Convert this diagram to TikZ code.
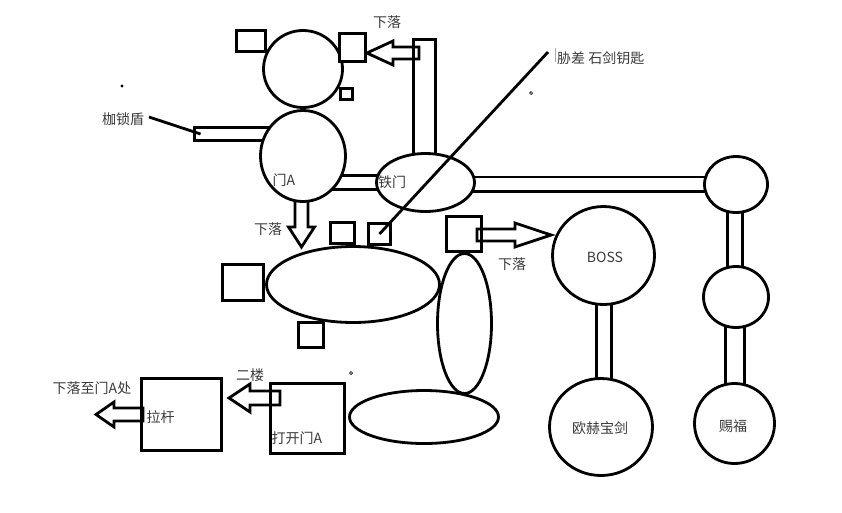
\documentclass[tikz,border=0pt]{standalone}
\usepackage{fontspec}
\newfontfamily\cjk{Noto Sans CJK SC}
\usetikzlibrary{shapes.geometric,calc,backgrounds}
\definecolor{txt}{HTML}{3A3A3A}
\definecolor{cursor}{HTML}{C8A878}
\tikzset{
  ln/.style={line width=2.8pt, line join=miter},
  room/.style={ln, draw, fill=white, ellipse, inner sep=0pt},
  sq/.style={ln, draw, fill=white, rectangle, inner sep=0pt},
  barline/.style={ln, draw},
  blockarrow/.style={ln, draw},
  lbl/.style={font=\cjk\fontsize{14pt}{16pt}\selectfont, text=txt, inner sep=0pt},
}
\begin{document}
\begin{tikzpicture}[x=1pt,y=-1pt]
\useasboundingbox (0,0) rectangle (842,512);
% rooms
\node[room, minimum width=79pt, minimum height=77pt] (T1) at (303,69) {};
\node[room, minimum width=85pt, minimum height=91pt] (DoorA) at (303,156) {};
\node[room, minimum width=98pt, minimum height=58pt] (TieMen) at (425.5,182.5) {};
\node[room, minimum width=173pt, minimum height=76pt] (BigE) at (353,284.5) {};
\node[room, fill=none, minimum width=54pt, minimum height=140pt] (VertE) at (464.5,323.5) {};
\node[room, fill=none, minimum width=149pt, minimum height=53pt] (BotE) at (424,417) {};
\node[room, minimum width=102pt, minimum height=98pt] (Boss) at (603.5,255.5) {};
\node[room, minimum width=103pt, minimum height=97pt] (Sword) at (601,427) {};
\node[room, minimum width=63pt, minimum height=56pt] (R1) at (736,184.5) {};
\node[room, minimum width=65pt, minimum height=61pt] (R2) at (736,297) {};
\node[room, minimum width=80pt, minimum height=80pt] (Bless) at (734.5,423.5) {};
% squares
\node[sq, minimum width=29pt, minimum height=21pt] (S1) at (251,41) {};
\node[sq, minimum width=26pt, minimum height=28pt] (S2) at (352.5,47.5) {};
\node[sq, minimum width=12pt, minimum height=11pt] (S3) at (346.5,94) {};
\node[sq, minimum width=24pt, minimum height=21pt] (S4) at (342.5,233) {};
\node[sq, minimum width=22pt, minimum height=21pt] (S5) at (379.5,234) {};
\node[sq, minimum width=41pt, minimum height=36pt] (S6) at (243,282.5) {};
\node[sq, minimum width=25pt, minimum height=25pt] (S7) at (311,335) {};
\node[sq, minimum width=35pt, minimum height=35pt] (S8) at (464,234) {};
\node[sq, minimum width=80pt, minimum height=72pt] (Lever) at (181.5,414.5) {};
\node[sq, minimum width=74pt, minimum height=70pt] (OpenA) at (307.5,418.5) {};
% free ends
\coordinate (shieldEnd) at (194.5,134);
\coordinate (ventTop) at (423.5,39.5);
% bars (connectors) behind the rooms
\begin{scope}[on background layer]
\draw[barline] ($(shieldEnd)+(0,-6.5)$) rectangle ($(DoorA.center|-shieldEnd)+(0,6.5)$);
\draw[barline] ($(ventTop)+(-10,0)$) rectangle ($(TieMen.center)+(10,0)$);
\draw[barline] ($(DoorA.center|-TieMen.center)+(0,-7)$) rectangle ($(TieMen.center)+(0,7)$);
\draw[barline] ($(TieMen.center|-R1.center)+(0,-7.5)$) rectangle ($(R1.center)+(0,7)$);
\draw[barline] ($(R1.center)+(-8.5,0)$) rectangle ($(R2.center)+(6.5,0)$);
\draw[barline] ($(R2.center)+(-10.5,0)$) rectangle ($(Bless.center)+(10,0)$);
\draw[barline] ($(Boss.center)+(-7,0)$) rectangle ($(Sword.center)+(10.5,0)$);
\end{scope}
% block arrows
\draw[blockarrow] (419,47) -- (393,47) -- (393,41) -- (S2.east|-393,53) -- (393,65) -- (393,59) -- (419,59) -- cycle;
\draw[blockarrow] (295,201) -- (295,227) -- (288.5,227) -- (301.5,247) -- (314.5,227) -- (308,227) -- (308,201);
\draw[blockarrow] (477,229) -- (515,229) -- (515,223) -- (Boss.west|-515,235) -- (515,247) -- (515,241) -- (477,241) -- cycle;
\draw[blockarrow] (280,391) -- (250,391) -- (250,384) -- (229,398) -- (250,412) -- (250,405) -- (280,405) -- cycle;
\draw[blockarrow] (143,408) -- (114,408) -- (114,402) -- (96,414.5) -- (114,427) -- (114,421) -- (143,421) -- cycle;
% pointer lines
\coordinate (keyEnd) at (548,52);
\coordinate (shieldTip) at (149,117);
\draw[ln] (keyEnd) -- (S5.center);
\draw[ln] (shieldTip) -- ($(shieldEnd)+(6,0)$);
% dots and cursor
\fill (122,86) circle (1.6pt);
\draw[line width=0.7pt] (531,93) circle (1.5pt);
\draw[line width=0.7pt] (351,373) circle (1.5pt);
\draw[cursor, line width=0.8pt] (555,48) -- (555,62);
% labels
\node[lbl] (lShield) at (123,119) {枷锁盾};
\node[lbl] (lFall1) at (387,22) {下落};
\node[lbl] (lFall2) at (268,229) {下落};
\node[lbl] (lFall3) at (512,264) {下落};
\node[lbl] (lDoorA) at (284,180) {门A};
\node[lbl] (lTie) at (392,182) {铁门};
\node[lbl, anchor=west] (lKey) at (557,58) {胁差 石剑钥匙};
\node[lbl] (lBoss) at (605,257) {BOSS};
\node[lbl] (lSword) at (600,428) {欧赫宝剑};
\node[lbl] (lBless) at (733,426) {赐福};
\node[lbl] (l2F) at (250,375) {二楼};
\node[lbl] (lDrop) at (92,388) {下落至门A处};
\node[lbl] (lLever) at (160.5,417) {拉杆};
\node[lbl] (lOpen) at (297,438) {打开门A};
\end{tikzpicture}
\end{document}
